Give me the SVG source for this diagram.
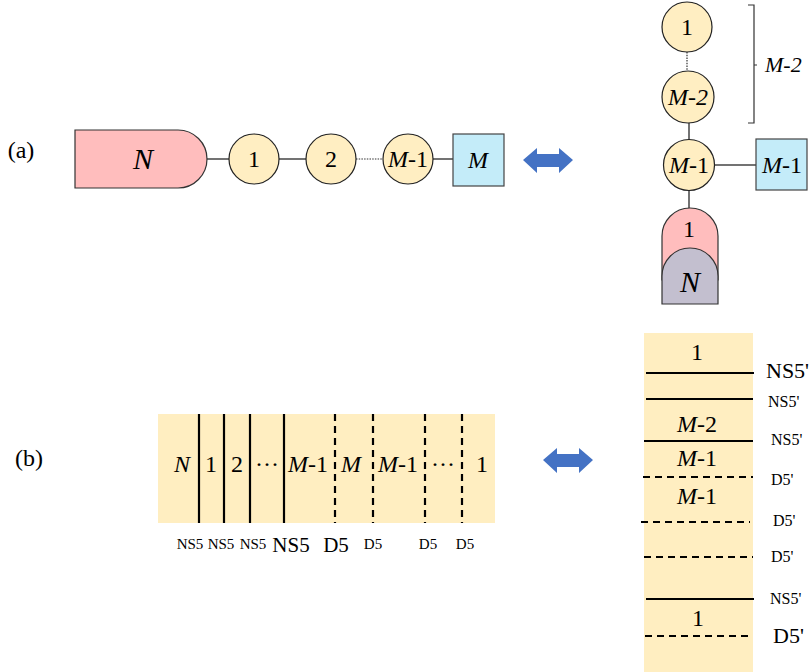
<svg xmlns="http://www.w3.org/2000/svg" width="809" height="672" viewBox="0 0 809 672">
<style>
text{font-family:"Liberation Serif","Times New Roman",serif;fill:#000;text-anchor:middle}
.i{font-style:italic}
.c{fill:#FFEEC2;stroke:#222;stroke-width:1.2}
.ln{stroke:#444;stroke-width:1.5;fill:none}
.dot{stroke:#333;stroke-width:1.2;stroke-dasharray:1.5 1.2;fill:none}
.s{stroke:#000;stroke-width:2.2;fill:none}
.d{stroke:#000;stroke-width:2.2;stroke-dasharray:7 5;fill:none}
.t24{font-size:24px}
.arr{fill:#4472C4}
.st{text-anchor:start}
</style>
<rect width="809" height="672" fill="#fff"/>
<text x="21" y="158" font-size="24">(a)</text>
<text x="29" y="466" font-size="24">(b)</text>

<g id="connectors">
<line class="ln" x1="203" y1="159" x2="229" y2="159"/>
<line class="ln" x1="279" y1="159" x2="306" y2="159"/>
<line class="dot" x1="356" y1="159" x2="383" y2="159"/>
<line class="ln" x1="433" y1="159" x2="453" y2="159"/>
<line class="dot" x1="687" y1="52" x2="687" y2="71"/>
<line class="ln" x1="689" y1="123" x2="689" y2="140"/>
<line class="ln" x1="715" y1="165" x2="756" y2="165"/>
<line class="ln" x1="689" y1="190" x2="689" y2="208"/>
</g>

<g id="node-N">
<path d="M75,130 H178 A29,29 0 0 1 178,188 H75 Z" fill="#FFBDBD" stroke="#333" stroke-width="1.2"/>
<text x="143" y="169" font-size="30" class="i">N</text>
</g>
<g id="node-1"><circle class="c" cx="254" cy="159" r="25"/><text x="254" y="167" class="t24">1</text></g>
<g id="node-2"><circle class="c" cx="331" cy="159" r="25"/><text x="331" y="167" class="t24">2</text></g>
<g id="node-M1"><circle class="c" cx="408" cy="159" r="25"/><text x="408" y="167" class="t24"><tspan class="i">M</tspan>-1</text></g>
<g id="node-M"><rect x="453" y="134" width="51" height="52" fill="#C4ECF9" stroke="#444" stroke-width="1.2"/><text x="478" y="168" class="t24 i">M</text></g>
<g id="arrow-a"><path class="arr" d="M523,160 L537,148 V154 H559 V148 L573,160 L559,173 V167 H537 V173 Z"/></g>

<g id="r-node-1"><circle class="c" cx="687" cy="27" r="25"/><text x="687" y="35" class="t24">1</text></g>
<g id="r-node-M2"><circle class="c" cx="688" cy="97" r="26"/><text x="688" y="105" class="t24 i">M-2</text></g>
<g id="r-node-M1"><circle class="c" cx="689" cy="165" r="25.5"/><text x="689" y="173" class="t24"><tspan class="i">M</tspan>-1</text></g>
<g id="r-box-M1"><rect x="756" y="139" width="51" height="51" fill="#C4ECF9" stroke="#444" stroke-width="1.2"/><text x="782" y="173" class="t24"><tspan class="i">M</tspan>-1</text></g>
<g id="bracket"><path d="M748,5 H754 V123 H748 M754,65 H757" stroke="#333" stroke-width="1.2" fill="none"/><text x="765" y="72" font-size="22" class="i st">M-2</text></g>
<g id="r-node-1N">
<path d="M662,280 V236 A28,28 0 0 1 718,236 V280 Z" fill="#FFBDBD" stroke="#333" stroke-width="1.2"/>
<text x="689" y="237" class="t24">1</text>
<path d="M662,304 V276 A28,28 0 0 1 718,276 V304 Z" fill="#C3BFCF" stroke="#333" stroke-width="1.2"/>
<text x="690" y="292" font-size="30" class="i">N</text>
</g>

<g id="strip-b">
<rect x="158" y="414" width="337" height="109" fill="#FFEEC1"/>
<g class="s"><line x1="199" y1="414" x2="199" y2="523"/><line x1="224" y1="414" x2="224" y2="523"/><line x1="250" y1="414" x2="250" y2="523"/><line x1="284" y1="414" x2="284" y2="523"/></g>
<g class="d"><line x1="335" y1="414" x2="335" y2="523"/><line x1="373" y1="414" x2="373" y2="523"/><line x1="425" y1="414" x2="425" y2="523"/><line x1="462" y1="414" x2="462" y2="523"/></g>
<g font-size="24">
<text x="182" y="472" class="i">N</text>
<text x="211" y="472">1</text>
<text x="237" y="472">2</text>
<text x="267" y="472">···</text>
<text x="308" y="472"><tspan class="i">M</tspan>-1</text>
<text x="351" y="472" class="i">M</text>
<text x="398" y="472"><tspan class="i">M</tspan>-1</text>
<text x="443" y="472">···</text>
<text x="482" y="472">1</text>
</g>
<g font-size="15">
<text x="190" y="549">NS5</text>
<text x="221" y="549">NS5</text>
<text x="253" y="549">NS5</text>
<text x="373" y="549">D5</text>
<text x="428" y="549">D5</text>
<text x="465" y="549">D5</text>
</g>
<text x="291" y="552" font-size="21">NS5</text>
<text x="336" y="552" font-size="21">D5</text>
</g>
<g id="arrow-b"><path class="arr" d="M543,460 L557,448 V454 H579 V448 L593,460 L579,473 V467 H557 V473 Z"/></g>

<g id="column-b">
<rect x="644" y="333" width="109" height="339" fill="#FFEEC1"/>
<g class="s"><line x1="646" y1="373" x2="754" y2="373"/><line x1="646" y1="399" x2="753" y2="399"/><line x1="644" y1="441" x2="753" y2="441"/><line x1="646" y1="599" x2="754" y2="599"/></g>
<g class="d"><line x1="643" y1="477" x2="753" y2="477"/><line x1="641" y1="522" x2="750" y2="522"/><line x1="644" y1="557" x2="753" y2="557"/><line x1="645" y1="636" x2="753" y2="636"/></g>
<g font-size="24">
<text x="697" y="360">1</text>
<text x="697" y="432"><tspan class="i">M</tspan>-2</text>
<text x="697" y="466"><tspan class="i">M</tspan>-1</text>
<text x="697" y="504"><tspan class="i">M</tspan>-1</text>
<text x="698" y="626">1</text>
</g>
<text x="766" y="378" font-size="22" class="st">NS5'</text>
<text x="768" y="407" font-size="16" class="st">NS5'</text>
<text x="771" y="445" font-size="16" class="st">NS5'</text>
<text x="771" y="485" font-size="16" class="st">D5'</text>
<text x="773" y="526" font-size="16" class="st">D5'</text>
<text x="771" y="562" font-size="16" class="st">D5'</text>
<text x="770" y="604" font-size="16" class="st">NS5'</text>
<text x="773" y="643" font-size="22" class="st">D5'</text>
</g>
</svg>
